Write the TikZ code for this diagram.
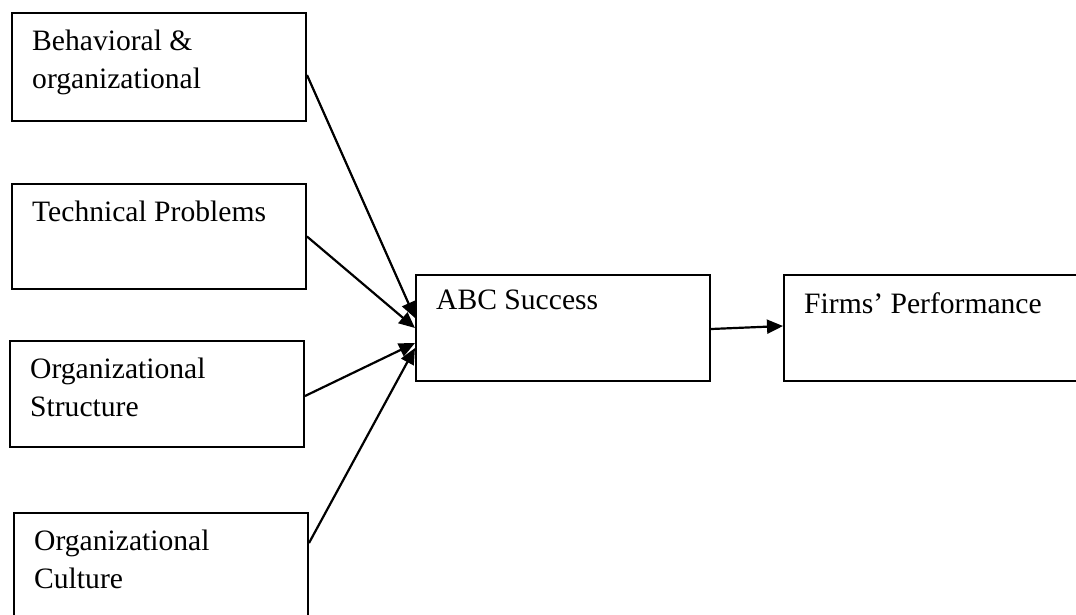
\documentclass[tikz,border=0pt]{standalone}
\usepackage{fontspec}
\setmainfont{Liberation Serif}
\usetikzlibrary{arrows.meta, positioning, calc}

\begin{document}
\begin{tikzpicture}[
  x=1pt, y=-1pt,
  factor/.style={draw, line width=2pt, anchor=north west, inner sep=0pt,
                 minimum width=294pt, minimum height=106pt},
  boxtext/.style={anchor=north west, align=left, inner xsep=21pt, inner ysep=18pt,
                  font=\fontsize{29.6pt}{38pt}\selectfont},
  arr/.style={-{Triangle[length=16pt,width=14pt]}, line width=2.2pt}
]
\useasboundingbox (0,0) rectangle (1076,614);
\clip (0,0) rectangle (1076,614);
% factors on the left
\node[factor, minimum height=108pt] (f1) at (11,12) {};
\node[boxtext] (t1) at (f1.north west) {Behavioral \&\\organizational};
\node[factor, minimum height=105pt] (f2) at (11,183) {};
\node[boxtext] (t2) at (f2.north west) {Technical Problems};
\node[factor] (f3) at (9,340) {};
\node[factor, minimum height=130pt] (f4) at (13,512) {};
\node[boxtext] (t3) at (f3.north west) {Organizational\\Structure};
\node[boxtext] (t4) at (f4.north west) {Organizational\\Culture};
% outcome boxes
\node[factor] (abc) at (415,274) {};
\node[boxtext, inner ysep=16pt] (tabc) at (abc.north west) {ABC Success};
\node[factor, minimum width=320pt] (perf) at (783,274) {};
\node[boxtext] (tperf) at (perf.north west) {Firms’ Performance};
\foreach \a/\ys/\ye in {f1/-8/10, f2/0/0, f3/-2/-15, f4/35/-20}
  \draw[arr] ([yshift=\ys pt]\a.east) -- ([yshift=\ye pt]abc.west);
\draw[arr] ([yshift=-1pt]abc.east) -- ([yshift=2pt]perf.west);
\end{tikzpicture}
\end{document}
